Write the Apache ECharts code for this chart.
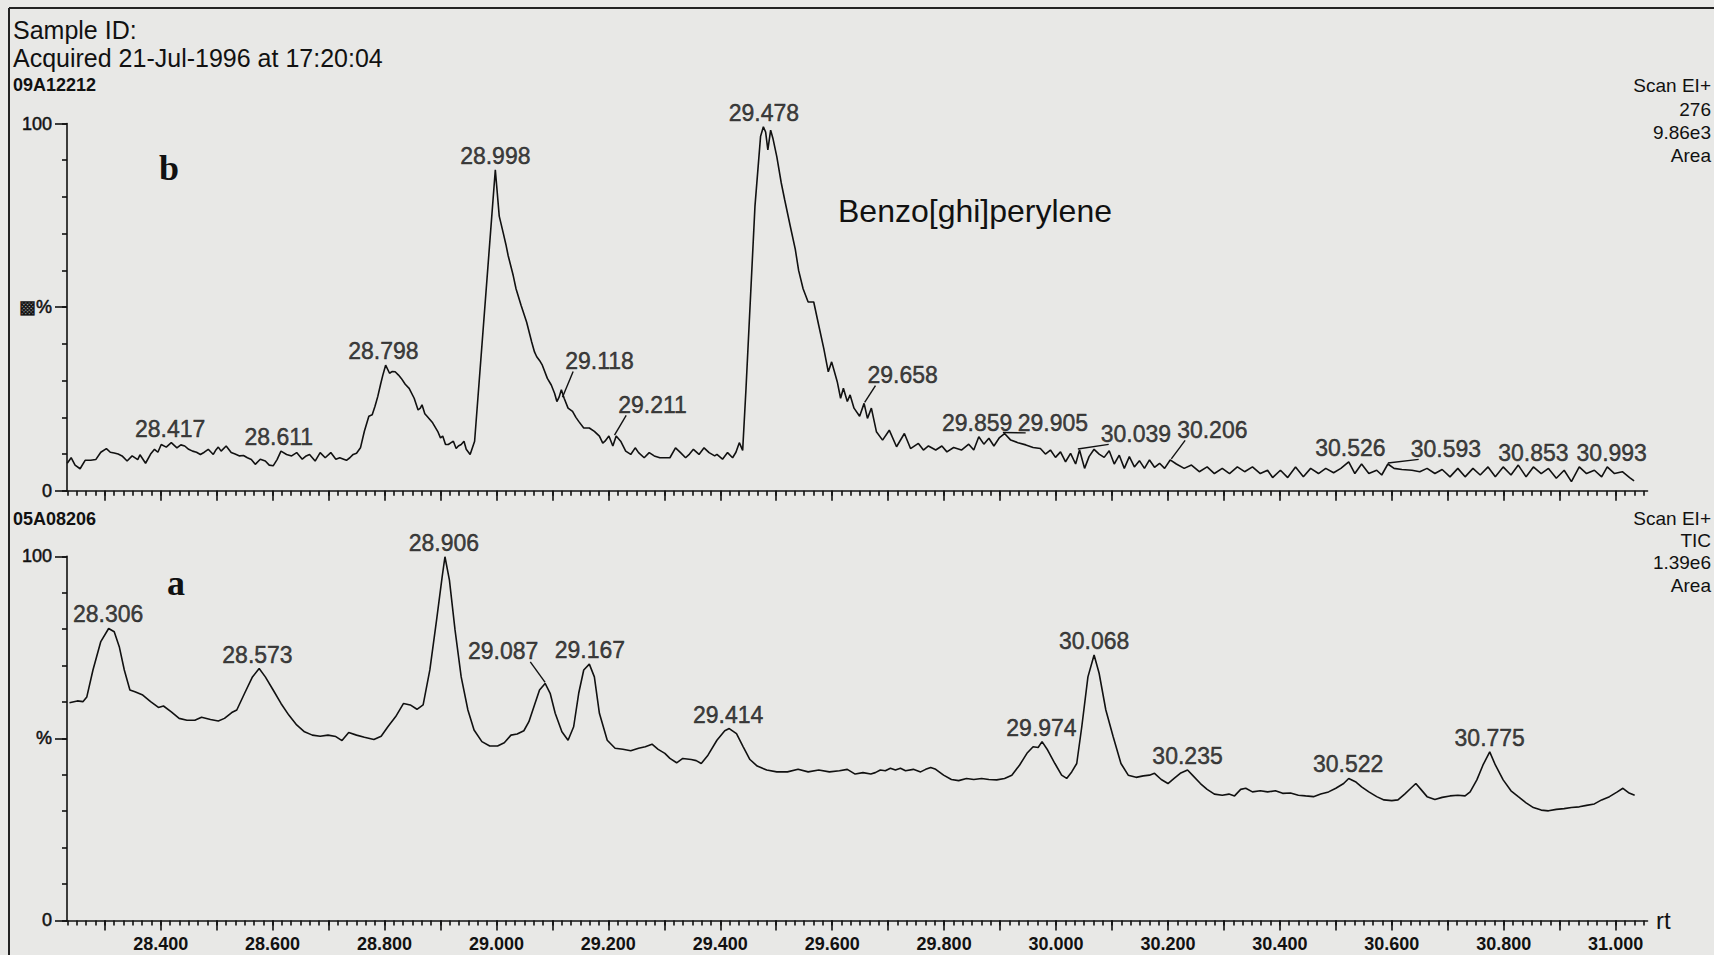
<!DOCTYPE html>
<html><head><meta charset="utf-8">
<script src="https://cdn.jsdelivr.net/npm/echarts@6/dist/echarts.min.js"></script>
<style>html,body{margin:0;padding:0;background:#e8e8e6}#c{width:1714px;height:955px}</style>
</head><body><div id="c"></div>
<script>
// ---------------- data ----------------
const RT_MIN = 28.2326, RT_MAX = 31.057;
const xLabelValues = [28.4, 28.6, 28.8, 29.0, 29.2, 29.4, 29.6, 29.8, 30.0, 30.2, 30.4, 30.6, 30.8, 31.0];
const yLabelValues = [0, 50, 100];
const yLabelsB = {0: '0', 50: '\u25A9%', 100: '100'};
const yLabelsA = {0: '0', 50: '%', 100: '100'};

// trace b: m/z 276, Scan EI+, 9.86e3  [rt, %]
const traceB = [
[28.233,7.5],[28.240,9.0],[28.247,7.0],[28.256,6.0],[28.265,8.3],[28.275,8.3],[28.284,8.5],[28.293,10.5],[28.303,11.5],[28.310,10.5],
[28.317,10.3],[28.324,10.0],[28.331,9.5],[28.340,8.1],[28.349,9.5],[28.359,8.5],[28.363,9.8],[28.373,7.5],[28.382,10.0],[28.389,11.3],
[28.395,10.5],[28.401,12.6],[28.410,11.9],[28.419,13.1],[28.429,11.7],[28.436,12.5],[28.443,12.2],[28.450,11.3],[28.457,10.8],[28.464,10.5],
[28.471,9.9],[28.478,10.5],[28.485,11.3],[28.494,9.9],[28.499,11.2],[28.503,11.9],[28.508,10.8],[28.517,12.2],[28.526,10.4],[28.533,10.0],
[28.541,9.5],[28.548,9.6],[28.555,9.0],[28.562,8.5],[28.569,7.2],[28.578,8.6],[28.587,8.1],[28.594,7.0],[28.601,6.8],[28.608,8.5],
[28.615,10.8],[28.625,9.9],[28.634,9.5],[28.643,10.4],[28.653,8.6],[28.660,9.5],[28.666,9.9],[28.676,8.1],[28.685,10.4],[28.694,9.0],
[28.704,10.4],[28.713,8.6],[28.720,9.0],[28.727,8.6],[28.732,8.3],[28.738,9.0],[28.744,9.9],[28.750,10.2],[28.757,11.7],[28.764,16.2],
[28.772,20.3],[28.778,20.7],[28.783,23.0],[28.788,25.7],[28.793,29.0],[28.797,31.5],[28.802,34.2],[28.809,32.0],[28.814,32.5],[28.819,32.4],
[28.825,31.5],[28.830,30.6],[28.837,29.0],[28.844,27.9],[28.853,25.2],[28.860,22.0],[28.864,22.5],[28.867,23.4],[28.872,21.0],[28.876,20.3],
[28.886,18.5],[28.895,16.2],[28.900,14.4],[28.904,14.9],[28.909,12.6],[28.914,12.6],[28.919,13.1],[28.923,13.5],[28.928,11.5],[28.932,12.2],
[28.937,12.6],[28.942,13.5],[28.946,11.3],[28.953,9.9],[28.961,13.5],[28.998,87.4],[29.005,74.8],
[29.012,70.3],[29.017,67.0],[29.021,64.0],[29.030,58.6],[29.035,55.0],[29.044,50.5],[29.054,45.9],[29.063,40.5],[29.068,37.8],[29.072,36.5],
[29.077,35.5],[29.082,34.2],[29.091,30.6],[29.098,28.8],[29.104,26.5],[29.108,24.3],[29.112,25.5],[29.116,27.5],[29.121,25.2],[29.128,22.5],
[29.136,21.6],[29.142,20.0],[29.147,18.9],[29.156,17.1],[29.166,17.1],[29.175,16.2],[29.184,14.9],[29.190,13.0],[29.194,13.5],[29.201,14.9],
[29.208,12.2],[29.214,14.9],[29.222,13.5],[29.231,10.8],[29.240,9.9],[29.248,11.7],[29.254,10.4],[29.264,9.0],[29.273,10.4],[29.282,9.5],
[29.292,9.0],[29.301,9.0],[29.310,9.0],[29.320,11.7],[29.329,10.4],[29.338,9.0],[29.345,10.0],[29.352,11.3],[29.362,9.9],[29.371,11.7],
[29.380,10.4],[29.390,9.5],[29.394,9.9],[29.404,8.6],[29.413,10.4],[29.422,9.0],[29.428,10.5],[29.434,13.1],[29.440,11.0],[29.446,27.9],
[29.462,77.5],[29.472,96.5],[29.477,99.1],[29.481,97.7],[29.485,92.8],[29.490,98.2],[29.494,96.0],[29.501,91.0],[29.509,83.8],[29.515,79.3],
[29.525,72.1],[29.534,65.8],[29.540,60.0],[29.548,55.0],[29.557,51.4],[29.567,51.4],[29.576,45.0],[29.585,38.7],[29.593,32.4],[29.599,35.1],
[29.604,32.4],[29.609,29.7],[29.615,25.2],[29.620,27.9],[29.627,24.3],[29.632,26.1],[29.639,22.5],[29.649,20.3],[29.657,23.8],[29.663,19.7],
[29.670,22.5],[29.679,16.1],[29.690,13.8],[29.702,16.5],[29.715,12.0],[29.729,15.6],[29.740,11.5],[29.754,12.9],[29.763,11.1],[29.772,12.2],
[29.785,11.1],[29.796,12.2],[29.805,10.6],[29.817,11.8],[29.831,11.1],[29.844,12.7],[29.853,11.1],[29.862,14.7],[29.871,12.7],[29.880,14.3],
[29.889,12.2],[29.899,14.5],[29.908,15.6],[29.919,13.8],[29.932,13.1],[29.946,12.5],[29.959,11.8],[29.972,11.5],[29.981,10.0],[29.990,11.1],
[29.999,9.1],[30.008,10.6],[30.017,7.9],[30.026,10.2],[30.035,7.3],[30.042,11.1],[30.051,6.1],[30.059,9.3],[30.068,11.3],[30.077,10.0],
[30.086,9.1],[30.095,10.9],[30.104,7.3],[30.113,9.7],[30.122,6.1],[30.131,9.3],[30.140,6.5],[30.149,8.2],[30.158,6.1],[30.167,8.4],
[30.176,6.4],[30.185,7.5],[30.194,6.1],[30.204,8.4],[30.215,7.3],[30.229,6.1],[30.242,7.0],[30.256,5.2],[30.270,6.5],[30.283,4.7],
[30.297,6.1],[30.310,4.7],[30.324,6.5],[30.337,5.2],[30.351,6.5],[30.365,4.7],[30.378,5.6],[30.387,3.6],[30.401,5.6],[30.414,3.6],
[30.428,6.5],[30.442,3.8],[30.455,6.1],[30.469,4.7],[30.482,6.1],[30.496,4.9],[30.509,6.1],[30.523,7.9],[30.534,4.7],[30.546,7.3],
[30.559,4.7],[30.573,5.6],[30.582,4.3],[30.593,7.3],[30.604,6.1],[30.618,5.8],[30.636,5.6],[30.650,5.2],[30.663,6.1],[30.677,4.7],
[30.690,5.8],[30.704,3.8],[30.718,6.1],[30.731,3.8],[30.745,6.1],[30.758,4.3],[30.772,6.5],[30.785,3.8],[30.799,6.5],[30.813,4.3],
[30.826,7.0],[30.840,3.8],[30.853,6.5],[30.867,4.7],[30.880,6.1],[30.894,3.4],[30.908,5.6],[30.921,2.5],[30.935,6.5],[30.948,4.7],
[30.962,5.6],[30.975,3.8],[30.985,6.5],[30.998,4.7],[31.012,5.2],[31.025,3.6],[31.033,2.7]
];

// trace a: TIC, Scan EI+, 1.39e6  [rt, %]
const traceA = [
[28.237,59.8],[28.251,60.3],[28.261,60.1],[28.268,61.4],[28.279,68.8],[28.293,76.6],[28.307,80.2],[28.317,79.3],[28.326,75.2],[28.335,68.8],
[28.345,63.3],[28.354,62.8],[28.368,61.9],[28.382,60.1],[28.396,58.5],[28.405,58.9],[28.419,57.3],[28.433,55.5],[28.447,55.0],[28.461,55.0],
[28.473,55.8],[28.489,55.2],[28.503,54.8],[28.514,55.5],[28.527,57.1],[28.536,57.8],[28.550,62.4],[28.564,66.9],[28.576,69.2],[28.587,66.9],
[28.601,63.3],[28.615,59.6],[28.629,56.4],[28.643,53.7],[28.657,51.8],[28.671,50.9],[28.685,50.6],[28.699,50.9],[28.713,50.5],[28.724,49.4],
[28.736,51.6],[28.750,50.9],[28.764,50.3],[28.781,49.7],[28.794,50.6],[28.806,53.2],[28.820,56.0],[28.834,59.6],[28.846,59.2],[28.858,58.0],
[28.869,59.2],[28.881,68.8],[28.893,82.5],[28.903,94.4],[28.908,99.9],[28.916,93.5],[28.926,79.8],[28.937,66.9],[28.949,57.8],[28.960,52.3],
[28.974,49.1],[28.988,47.9],[29.002,47.9],[29.014,48.8],[29.026,50.9],[29.037,51.2],[29.049,52.1],[29.058,54.6],[29.068,59.2],[29.077,63.3],
[29.087,65.1],[29.096,62.4],[29.105,56.9],[29.117,51.8],[29.128,49.5],[29.138,53.2],[29.147,62.4],[29.156,68.8],[29.166,70.4],[29.175,66.9],
[29.184,56.9],[29.198,49.5],[29.212,47.3],[29.226,47.0],[29.240,46.6],[29.254,47.3],[29.266,47.7],[29.278,48.4],[29.289,47.0],[29.301,45.9],
[29.310,44.5],[29.322,43.3],[29.333,44.5],[29.348,44.2],[29.357,43.9],[29.366,43.1],[29.378,45.4],[29.394,49.5],[29.408,52.1],[29.416,52.7],
[29.429,51.3],[29.441,47.7],[29.453,44.2],[29.466,42.4],[29.483,41.3],[29.501,40.8],[29.520,40.8],[29.539,41.5],[29.557,40.8],[29.576,41.3],
[29.595,40.8],[29.613,41.1],[29.627,41.5],[29.641,40.2],[29.655,40.6],[29.669,40.2],[29.677,40.6],[29.686,41.3],[29.695,41.1],[29.704,41.8],
[29.713,41.3],[29.722,41.8],[29.731,41.1],[29.745,41.5],[29.758,40.8],[29.767,41.5],[29.776,42.0],[29.785,41.5],[29.799,39.9],[29.813,38.7],
[29.826,38.4],[29.840,39.0],[29.853,38.7],[29.867,39.0],[29.880,38.7],[29.894,38.6],[29.908,39.0],[29.921,39.9],[29.935,42.7],[29.948,45.9],
[29.959,47.7],[29.968,47.5],[29.975,49.1],[29.985,46.8],[29.998,43.1],[30.010,39.9],[30.019,39.0],[30.028,40.8],[30.037,43.1],[30.046,53.2],
[30.057,66.9],[30.068,72.9],[30.077,67.9],[30.089,57.8],[30.102,50.5],[30.116,43.1],[30.129,39.9],[30.143,39.3],[30.156,39.7],[30.167,39.9],
[30.176,40.4],[30.188,38.7],[30.200,37.6],[30.211,39.0],[30.222,40.4],[30.235,41.3],[30.245,39.7],[30.258,37.6],[30.270,36.0],[30.283,34.7],
[30.297,34.4],[30.309,34.7],[30.319,34.2],[30.330,36.0],[30.339,36.3],[30.351,35.3],[30.365,35.6],[30.378,35.3],[30.392,35.6],[30.405,34.9],
[30.419,35.0],[30.433,34.4],[30.446,34.2],[30.460,34.0],[30.473,34.7],[30.487,35.3],[30.500,36.3],[30.514,37.6],[30.523,39.0],[30.535,38.1],
[30.546,36.7],[30.559,35.3],[30.573,34.0],[30.586,33.1],[30.600,32.9],[30.611,33.1],[30.623,34.7],[30.634,36.3],[30.643,37.6],[30.652,36.0],
[30.663,34.0],[30.677,33.2],[30.690,33.8],[30.704,34.2],[30.718,34.4],[30.731,34.2],[30.740,35.3],[30.752,38.6],[30.763,42.7],[30.775,46.3],
[30.785,42.7],[30.799,38.6],[30.813,35.6],[30.826,34.0],[30.840,32.3],[30.853,31.0],[30.867,30.3],[30.880,30.1],[30.894,30.5],[30.908,30.7],
[30.921,31.0],[30.935,31.2],[30.948,31.6],[30.962,32.0],[30.975,33.1],[30.989,34.0],[31.003,35.3],[31.013,36.3],[31.023,35.1],[31.034,34.4]
];

// labelled peaks [rt, % at the peak]
const peaksB = [
[28.417,13.1],[28.611,10.8],[28.798,34.2],[28.998,87.4],[29.118,25.2],[29.211,14.9],[29.478,99.1],[29.658,23.8],
[29.859,14.7],[29.905,15.6],[30.039,11.1],[30.206,8.4],[30.526,7.9],[30.593,7.3],[30.853,6.5],[30.993,6.5]
];
const peaksA = [
[28.306,80.2],[28.573,69.2],[28.906,99.9],[29.087,65.1],[29.167,70.4],[29.414,52.7],
[29.974,49.1],[30.068,72.9],[30.235,41.3],[30.522,39.0],[30.775,46.3]
];

// ---------------- style / layout ----------------
const INK = '#111111';
const FONT = '"Liberation Sans", Arial, sans-serif';
const LABEL_SIZE = 23;
const PX_PER_RT = 559.6;
// label centre offsets (px) for labels drawn with a leader line
const leaderB = {'29.118':[37,-37],'29.211':[38,-31],'29.658':[38,-28],'29.905':[50,-11],'30.039':[58,-16],'30.206':[41,-30],'30.593':[58,-15]};
const leaderA = {'29.087':[-42,-32]};

const r4 = v => Math.round(v * 10000) / 10000;
const majorTicks = [], minorTicks = [];
for (let k = 283; k <= 310; k++) majorTicks.push(r4(k / 10));
for (let k = Math.ceil(RT_MIN * 60); k <= Math.floor(RT_MAX * 60); k++) minorTicks.push(r4(k / 60));

function xAxes(gi, showLabels) {
  const ls = {color: INK, width: 1.6};
  return [
    {type: 'value', gridIndex: gi, position: 'bottom', min: RT_MIN, max: RT_MAX, splitLine: {show: false},
     axisLine: {show: true, onZero: false, lineStyle: ls},
     axisTick: {show: true, customValues: majorTicks, length: 10, lineStyle: ls},
     axisLabel: {show: showLabels, customValues: xLabelValues, formatter: v => v.toFixed(3), margin: 15,
                 fontSize: 18, fontWeight: 'bold', color: INK, fontFamily: FONT}},
    {type: 'value', gridIndex: gi, position: 'bottom', min: RT_MIN, max: RT_MAX, splitLine: {show: false},
     axisLine: {show: false, onZero: false}, axisTick: {show: true, customValues: minorTicks, length: 5, lineStyle: ls},
     axisLabel: {show: false}}
  ];
}
function yAxes(gi, labels) {
  const ls = {color: INK, width: 1.6};
  return [
    {type: 'value', gridIndex: gi, position: 'left', min: 0, max: 100, splitLine: {show: false},
     axisLine: {show: true, onZero: false, lineStyle: ls},
     axisTick: {show: true, customValues: yLabelValues, length: 12, lineStyle: ls},
     axisLabel: {show: true, customValues: yLabelValues, formatter: v => labels[v], margin: 15,
                 fontSize: 18, color: INK, fontFamily: FONT, textBorderColor: INK, textBorderWidth: 0.5}},
    {type: 'value', gridIndex: gi, position: 'left', min: 0, max: 100, interval: 10, splitLine: {show: false},
     axisLine: {show: false, onZero: false}, axisTick: {show: true, length: 5, lineStyle: ls}, axisLabel: {show: false}}
  ];
}
function labelSeries(peaks, xi, yi, leader) {
  const plain = peaks.filter(p => !leader[p[0].toFixed(3)]);
  const led = peaks.filter(p => leader[p[0].toFixed(3)]);
  const lab = {show: true, color: INK, fontSize: LABEL_SIZE, fontFamily: FONT, textBorderColor: INK, textBorderWidth: 0.5,
               formatter: p => p.value[0].toFixed(3)};
  return [
    {type: 'scatter', xAxisIndex: xi, yAxisIndex: yi, data: plain, symbolSize: 1, clip: false, silent: true,
     itemStyle: {color: 'rgba(0,0,0,0)'}, label: Object.assign({position: 'top', distance: 2}, lab)},
    {type: 'scatter', xAxisIndex: xi, yAxisIndex: yi, data: led, symbolSize: 1, clip: false, silent: true,
     itemStyle: {color: 'rgba(0,0,0,0)'}, label: Object.assign({position: 'inside'}, lab),
     labelLayout: p => { const o = leader[led[p.dataIndex][0].toFixed(3)]; return {dx: o[0], dy: o[1]}; }}
  ];
}
const txt = (x, y, text, font, extra) => ({type: 'text', x, y, silent: true,
  style: Object.assign({text, fill: INK, font, textVerticalAlign: 'middle'}, extra || {})});

const plotW = (RT_MAX - RT_MIN) * PX_PER_RT;
const chart = echarts.init(document.getElementById('c'), null, {renderer: 'svg'});
chart.setOption({
  animation: false,
  backgroundColor: '#e8e8e6',
  grid: [
    {left: 67, top: 123.5, width: plotW, height: 367.3},
    {left: 67, top: 556.4, width: plotW, height: 364}
  ],
  xAxis: [].concat(xAxes(0, false), xAxes(1, true)),
  yAxis: [].concat(yAxes(0, yLabelsB), yAxes(1, yLabelsA)),
  series: [
    {type: 'line', xAxisIndex: 0, yAxisIndex: 0, data: traceB, symbol: 'none', silent: true,
     lineStyle: {color: INK, width: 1.6}},
    {type: 'line', xAxisIndex: 2, yAxisIndex: 2, data: traceA, symbol: 'none', silent: true,
     lineStyle: {color: INK, width: 1.6}}
  ].concat(labelSeries(peaksB, 0, 0, leaderB), labelSeries(peaksA, 2, 2, leaderA))
});

// leader lines from each peak to the lower corner of its displaced label
const mctx = document.createElement('canvas').getContext('2d');
mctx.font = LABEL_SIZE + 'px ' + FONT;
function leaderLines(peaks, leader, seriesIndex) {
  const out = [];
  peaks.forEach(p => {
    const o = leader[p[0].toFixed(3)];
    if (!o) return;
    const pt = chart.convertToPixel({seriesIndex}, p);
    const w = mctx.measureText(p[0].toFixed(3)).width;
    const cx = pt[0] + o[0], cy = pt[1] + o[1];
    const ex = o[0] > 0 ? cx - w / 2 + 8 : cx + w / 2 - 8;
    const ey = cy + LABEL_SIZE * 0.45;
    out.push({type: 'line', silent: true, shape: {x1: pt[0], y1: pt[1] - 1, x2: ex, y2: ey},
              style: {stroke: INK, lineWidth: 1.4}});
  });
  return out;
}

const F = s => s + 'px ' + FONT;
chart.setOption({
  graphic: [
    {type: 'line', silent: true, shape: {x1: 9, y1: 8, x2: 9, y2: 955}, style: {stroke: '#222', lineWidth: 2}},
    {type: 'line', silent: true, shape: {x1: 9, y1: 8, x2: 1714, y2: 8}, style: {stroke: '#222', lineWidth: 2}},
    txt(13, 30, 'Sample ID:', F(25)),
    txt(13, 58, 'Acquired 21-Jul-1996 at 17:20:04', F(25)),
    txt(13, 85, '09A12212', 'bold ' + F(18)),
    txt(13, 519, '05A08206', 'bold ' + F(18)),
    txt(1711, 85, 'Scan EI+', F(19), {textAlign: 'right'}),
    txt(1711, 109, '276', F(19), {textAlign: 'right'}),
    txt(1711, 132, '9.86e3', F(19), {textAlign: 'right'}),
    txt(1711, 155, 'Area', F(19), {textAlign: 'right'}),
    txt(1711, 518, 'Scan EI+', F(19), {textAlign: 'right'}),
    txt(1711, 540, 'TIC', F(19), {textAlign: 'right'}),
    txt(1711, 562, '1.39e6', F(19), {textAlign: 'right'}),
    txt(1711, 585, 'Area', F(19), {textAlign: 'right'}),
    txt(169, 168, 'b', 'bold 36px "Liberation Serif", serif', {textAlign: 'center'}),
    txt(176, 583, 'a', 'bold 36px "Liberation Serif", serif', {textAlign: 'center'}),
    txt(975, 211, 'Benzo[ghi]perylene', F(32), {textAlign: 'center'}),
    txt(1656, 920, 'rt', F(24))
  ].concat(leaderLines(peaksB, leaderB, 0), leaderLines(peaksA, leaderA, 1))
});
</script></body></html>
